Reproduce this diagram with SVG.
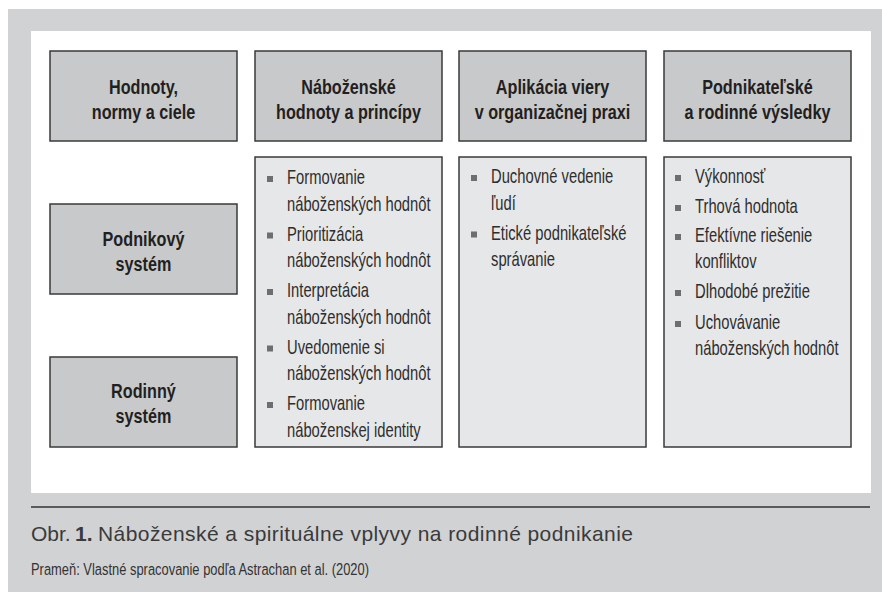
<svg xmlns="http://www.w3.org/2000/svg" width="882" height="592" viewBox="0 0 882 592">
<style>
.hbox{fill:#c8c9cb;stroke:#3a3a3a;stroke-width:1.5}
.lbox{fill:#e6e7e8;stroke:#3a3a3a;stroke-width:1.5}
.ht{font-family:"Liberation Sans",Arial,sans-serif;font-weight:700;font-size:20px;fill:#231f20;text-anchor:middle}
.lt{font-family:"Liberation Sans",Arial,sans-serif;font-size:20.5px;fill:#2e2e2e}
.bul{fill:#6d6e70}
.cap{font-family:"Liberation Sans",Arial,sans-serif;font-size:21px;fill:#3a3a3a}
.src{font-family:"Liberation Sans",Arial,sans-serif;font-size:17px;fill:#333}
</style>
<defs>
<rect id="b" class="bul" width="6" height="6"/>
</defs>
<rect x="0" y="0" width="882" height="592" fill="#ffffff"/>
<rect x="8" y="9" width="874" height="583" fill="#d1d2d4"/>
<rect x="31" y="31" width="840" height="462" fill="#ffffff"/>
<line x1="31" y1="507" x2="870" y2="507" stroke="#333" stroke-width="1.5"/>

<g id="h1">
<rect class="hbox" x="50" y="51" width="187" height="90"/>
<text class="ht" transform="translate(143.5,94) scale(0.81,1)">Hodnoty,</text>
<text class="ht" transform="translate(143.5,118.5) scale(0.81,1)">normy a ciele</text>
</g>
<g id="h2">
<rect class="hbox" x="255" y="51" width="187" height="90"/>
<text class="ht" transform="translate(348.5,94) scale(0.81,1)">Náboženské</text>
<text class="ht" transform="translate(348.5,118.5) scale(0.81,1)">hodnoty a princípy</text>
</g>
<g id="h3">
<rect class="hbox" x="459" y="51" width="187" height="90"/>
<text class="ht" transform="translate(552.5,94) scale(0.81,1)">Aplikácia viery</text>
<text class="ht" transform="translate(552.5,118.5) scale(0.81,1)">v organizačnej praxi</text>
</g>
<g id="h4">
<rect class="hbox" x="664" y="51" width="187" height="90"/>
<text class="ht" transform="translate(757.5,94) scale(0.81,1)">Podnikateľské</text>
<text class="ht" transform="translate(757.5,118.5) scale(0.81,1)">a rodinné výsledky</text>
</g>
<g id="podnikovy">
<rect class="hbox" x="50" y="204" width="187" height="90"/>
<text class="ht" transform="translate(143.5,246) scale(0.81,1)">Podnikový</text>
<text class="ht" transform="translate(143.5,270.5) scale(0.81,1)">systém</text>
</g>
<g id="rodinny">
<rect class="hbox" x="50" y="357" width="187" height="90"/>
<text class="ht" transform="translate(143.5,398) scale(0.81,1)">Rodinný</text>
<text class="ht" transform="translate(143.5,422.5) scale(0.81,1)">systém</text>
</g>

<g id="list2">
<rect class="lbox" x="255" y="157" width="187" height="290"/>
<use href="#b" x="267" y="176"/>
<text class="lt" transform="translate(287,184) scale(0.72,1)">Formovanie</text>
<text class="lt" transform="translate(287,210.5) scale(0.72,1)">náboženských hodnôt</text>
<use href="#b" x="267" y="232.5"/>
<text class="lt" transform="translate(287,240.5) scale(0.72,1)">Prioritizácia</text>
<text class="lt" transform="translate(287,267) scale(0.72,1)">náboženských hodnôt</text>
<use href="#b" x="267" y="289"/>
<text class="lt" transform="translate(287,297) scale(0.72,1)">Interpretácia</text>
<text class="lt" transform="translate(287,323.5) scale(0.72,1)">náboženských hodnôt</text>
<use href="#b" x="267" y="345.5"/>
<text class="lt" transform="translate(287,353.5) scale(0.72,1)">Uvedomenie si</text>
<text class="lt" transform="translate(287,380) scale(0.72,1)">náboženských hodnôt</text>
<use href="#b" x="267" y="402"/>
<text class="lt" transform="translate(287,410) scale(0.72,1)">Formovanie</text>
<text class="lt" transform="translate(287,436.5) scale(0.72,1)">náboženskej identity</text>
</g>
<g id="list3">
<rect class="lbox" x="459" y="157" width="187" height="290"/>
<use href="#b" x="471" y="175"/>
<text class="lt" transform="translate(491,183) scale(0.72,1)">Duchovné vedenie</text>
<text class="lt" transform="translate(491,209.5) scale(0.72,1)">ľudí</text>
<use href="#b" x="471" y="231.5"/>
<text class="lt" transform="translate(491,239.5) scale(0.72,1)">Etické podnikateľské</text>
<text class="lt" transform="translate(491,266) scale(0.72,1)">správanie</text>
</g>
<g id="list4">
<rect class="lbox" x="664" y="157" width="187" height="290"/>
<use href="#b" x="675" y="175"/>
<text class="lt" transform="translate(695,183) scale(0.72,1)">Výkonnosť</text>
<use href="#b" x="675" y="205"/>
<text class="lt" transform="translate(695,213) scale(0.72,1)">Trhová hodnota</text>
<use href="#b" x="675" y="234"/>
<text class="lt" transform="translate(695,242) scale(0.72,1)">Efektívne riešenie</text>
<text class="lt" transform="translate(695,267.5) scale(0.72,1)">konfliktov</text>
<use href="#b" x="675" y="290"/>
<text class="lt" transform="translate(695,298) scale(0.72,1)">Dlhodobé prežitie</text>
<use href="#b" x="675" y="321"/>
<text class="lt" transform="translate(695,329) scale(0.72,1)">Uchovávanie</text>
<text class="lt" transform="translate(695,355) scale(0.72,1)">náboženských hodnôt</text>
</g>
<g id="connectors"/>

<g id="caption">
<text class="cap" y="540.5"><tspan x="31">Obr.</tspan><tspan x="75" font-weight="700">1.</tspan><tspan x="98" textLength="535" lengthAdjust="spacing">Náboženské a spirituálne vplyvy na rodinné podnikanie</tspan></text>
<text class="src" transform="translate(31,575) scale(0.76,1)">Prameň: Vlastné spracovanie podľa Astrachan et al. (2020)</text>
</g>
</svg>
